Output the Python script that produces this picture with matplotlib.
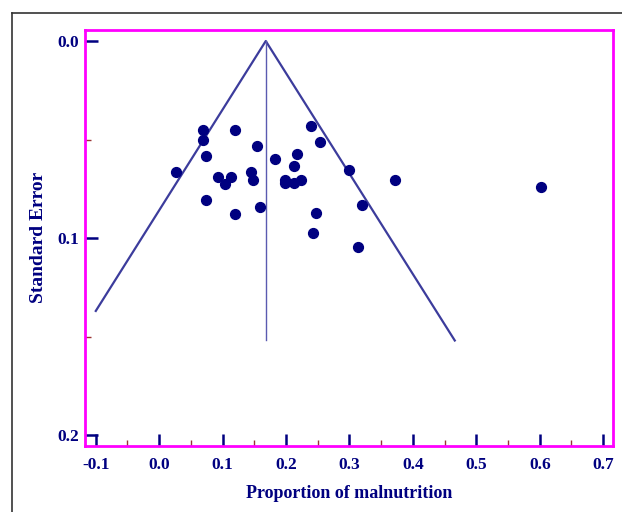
import numpy as np
import matplotlib.pyplot as plt
from matplotlib.lines import Line2D

# study estimates
prop = [0.069, 0.069, 0.119, 0.073, 0.154, 0.027, 0.092, 0.113, 0.103, 0.144,
        0.148, 0.074, 0.119, 0.159, 0.183, 0.217, 0.212, 0.199, 0.199, 0.212,
        0.224, 0.239, 0.254, 0.299, 0.372, 0.319, 0.247, 0.242, 0.314, 0.602]
se = [0.0452, 0.0503, 0.0452, 0.0582, 0.0531, 0.0666, 0.0690, 0.0690, 0.0726, 0.0665,
      0.0707, 0.0809, 0.0878, 0.0843, 0.0601, 0.0575, 0.0633, 0.0706, 0.0722, 0.0722,
      0.0707, 0.0430, 0.0511, 0.0656, 0.0707, 0.0834, 0.0873, 0.0976, 0.1044, 0.0741]

pooled = 0.168
left_end = (-0.100, 0.137)
right_end = (0.466, 0.152)
se_max = 0.152

navy = '#000080'
line_col = '#3c3c9c'

fig = plt.figure(figsize=(6.22, 5.12), dpi=100)
ax = fig.add_axes([85/622, 1-445.5/512, (612.7-85)/622, (445.5-30)/512])

# outer frame of the figure
fig.add_artist(Line2D([11.5/622, 11.5/622], [0, 1-13/512], color='#333333', lw=1.2))
fig.add_artist(Line2D([11.5/622, 1], [1-13/512, 1-13/512], color='#333333', lw=1.2))

ax.plot([left_end[0], pooled, right_end[0]], [left_end[1], 0.0, right_end[1]],
        color=line_col, lw=1.6)
ax.plot([pooled, pooled], [0.0, se_max], color='#5a5ab0', lw=1.0)
ax.scatter(prop, se, s=50, color=navy, zorder=3)

ax.set_xlim(-0.117, 0.715)
ax.set_ylim(0.2053, -0.0056)
ax.set_xticks(np.arange(-0.1, 0.71, 0.1))
ax.set_xticklabels(['-0.1', '0.0', '0.1', '0.2', '0.3', '0.4', '0.5', '0.6', '0.7'])
ax.set_xticks(np.arange(-0.05, 0.7, 0.1), minor=True)
ax.set_yticks([0.0, 0.1, 0.2])
ax.set_yticklabels(['0.0', '0.1', '0.2'])
ax.set_yticks([0.05, 0.15], minor=True)

for s in ax.spines.values():
    s.set_color('#ff00ff')
    s.set_linewidth(2)

ax.tick_params(which='major', direction='in', length=9, width=1.8, color=navy,
               labelcolor=navy, labelsize=12.5)
ax.tick_params(axis='x', which='major', pad=8)
ax.tick_params(axis='y', which='major', pad=4)
ax.tick_params(which='minor', direction='in', length=4.5, width=1, color='#993333')
for lab in ax.get_xticklabels() + ax.get_yticklabels():
    lab.set_fontfamily('Liberation Serif')
    lab.set_fontweight('bold')

ax.set_xlabel('Proportion of malnutrition', fontsize=13, fontweight='bold',
              family='Liberation Serif', color=navy, labelpad=9)
ax.set_ylabel('Standard Error', fontsize=14, fontweight='bold',
              family='Liberation Serif', color=navy, labelpad=8)

fig.savefig('out.png', dpi=100)
